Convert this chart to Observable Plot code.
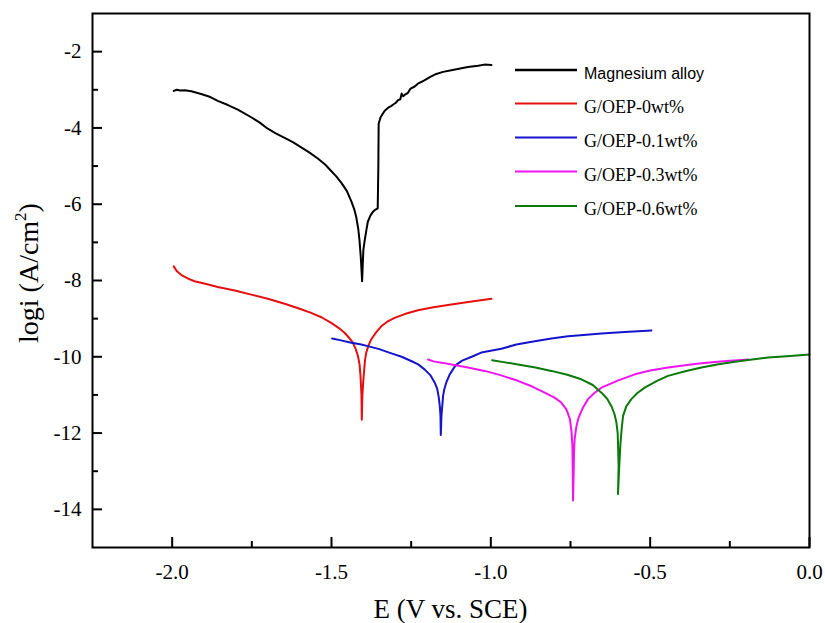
<!DOCTYPE html>
<html><head><meta charset="utf-8">
<script src="https://cdn.jsdelivr.net/npm/d3@7"></script>
<script src="https://cdn.jsdelivr.net/npm/@observablehq/plot@0.6"></script>
<style>body{margin:0;background:#fff}#chart{position:relative;width:825px;height:623px}
#chart svg text{font-family:"Liberation Serif","Times New Roman",serif}
#chart svg text.sans{font-family:"Liberation Sans",Arial,sans-serif}</style>
</head><body><div id="chart"></div>
<script>
const seriesNames = ["Magnesium alloy", "G/OEP-0wt%", "G/OEP-0.1wt%", "G/OEP-0.3wt%", "G/OEP-0.6wt%"];
const seriesColors = ["#000000", "#e41010", "#1414cc", "#f014f0", "#0a7a0a"];

const mgE = [-1.995,-1.985,-1.975,-1.961,-1.940,-1.909,-1.880,-1.857,-1.825,-1.794,-1.752,-1.725,-1.700,-1.675,-1.647,-1.620,-1.595,-1.570,-1.543,-1.520,-1.501,-1.485,-1.469,-1.452,-1.438,-1.428,-1.422,-1.416,-1.412,-1.408,-1.405,-1.404,-1.402,-1.400,-1.396,-1.391,-1.386,-1.378,-1.370,-1.362,-1.355,-1.353,-1.352,-1.346,-1.340,-1.333,-1.322,-1.312,-1.305,-1.298,-1.291,-1.284,-1.280,-1.275,-1.268,-1.260,-1.252,-1.240,-1.229,-1.210,-1.190,-1.176,-1.150,-1.124,-1.100,-1.072,-1.040,-1.020,-0.998];
const mgLogI = [-3.03,-3.00,-3.02,-3.01,-3.04,-3.11,-3.19,-3.29,-3.40,-3.52,-3.72,-3.86,-4.02,-4.14,-4.26,-4.38,-4.51,-4.64,-4.80,-4.96,-5.13,-5.27,-5.44,-5.65,-5.92,-6.15,-6.35,-6.65,-6.96,-7.40,-7.85,-8.02,-7.60,-7.20,-6.96,-6.70,-6.46,-6.30,-6.20,-6.14,-6.11,-5.00,-3.89,-3.72,-3.64,-3.55,-3.47,-3.42,-3.38,-3.34,-3.27,-3.25,-3.10,-3.17,-3.12,-3.08,-2.97,-2.92,-2.84,-2.76,-2.66,-2.60,-2.53,-2.49,-2.45,-2.40,-2.37,-2.34,-2.35];

const g0E = [-1.995,-1.985,-1.972,-1.950,-1.930,-1.890,-1.857,-1.800,-1.752,-1.700,-1.647,-1.600,-1.564,-1.530,-1.501,-1.478,-1.459,-1.445,-1.433,-1.424,-1.417,-1.412,-1.409,-1.406,-1.405,-1.403,-1.400,-1.398,-1.395,-1.391,-1.384,-1.375,-1.360,-1.344,-1.325,-1.302,-1.270,-1.229,-1.180,-1.124,-1.060,-0.998];
const g0LogI = [-7.63,-7.76,-7.85,-7.95,-8.02,-8.10,-8.17,-8.27,-8.37,-8.48,-8.61,-8.74,-8.85,-8.97,-9.11,-9.24,-9.37,-9.50,-9.63,-9.80,-9.98,-10.20,-10.50,-11.00,-11.65,-11.00,-10.60,-10.40,-10.10,-9.89,-9.70,-9.54,-9.36,-9.20,-9.08,-8.98,-8.88,-8.78,-8.70,-8.63,-8.55,-8.48];

const g01E = [-1.498,-1.470,-1.438,-1.410,-1.386,-1.350,-1.312,-1.280,-1.250,-1.228,-1.208,-1.190,-1.176,-1.168,-1.164,-1.160,-1.158,-1.157,-1.155,-1.152,-1.150,-1.146,-1.140,-1.130,-1.119,-1.110,-1.090,-1.060,-1.030,-0.967,-0.920,-0.862,-0.810,-0.758,-0.700,-0.653,-0.580,-0.496];
const g01LogI = [-9.52,-9.57,-9.63,-9.67,-9.72,-9.80,-9.91,-10.00,-10.11,-10.20,-10.33,-10.48,-10.68,-10.85,-11.03,-11.30,-11.55,-12.05,-11.55,-11.25,-11.03,-10.85,-10.68,-10.48,-10.33,-10.22,-10.10,-10.00,-9.89,-9.79,-9.68,-9.59,-9.52,-9.46,-9.42,-9.39,-9.35,-9.31];

const g03E = [-1.197,-1.180,-1.150,-1.124,-1.080,-1.019,-0.970,-0.915,-0.870,-0.831,-0.800,-0.779,-0.763,-0.752,-0.747,-0.744,-0.743,-0.742,-0.740,-0.739,-0.737,-0.732,-0.726,-0.712,-0.695,-0.675,-0.653,-0.600,-0.548,-0.500,-0.444,-0.390,-0.339,-0.270,-0.192];
const g03LogI = [-10.07,-10.12,-10.16,-10.20,-10.27,-10.37,-10.48,-10.63,-10.78,-10.94,-11.07,-11.20,-11.38,-11.63,-11.95,-12.33,-13.00,-13.77,-13.00,-12.50,-12.16,-11.85,-11.63,-11.35,-11.11,-10.95,-10.81,-10.62,-10.46,-10.36,-10.28,-10.22,-10.17,-10.12,-10.07];

const g06E = [-0.996,-0.960,-0.915,-0.860,-0.810,-0.760,-0.716,-0.680,-0.653,-0.635,-0.622,-0.612,-0.606,-0.602,-0.601,-0.599,-0.601,-0.597,-0.593,-0.589,-0.585,-0.575,-0.559,-0.540,-0.517,-0.480,-0.444,-0.390,-0.339,-0.290,-0.234,-0.180,-0.130,-0.060,0.0];
const g06LogI = [-10.09,-10.14,-10.20,-10.28,-10.37,-10.47,-10.59,-10.74,-10.94,-11.10,-11.29,-11.50,-11.72,-12.00,-12.25,-12.86,-13.60,-12.86,-12.25,-11.85,-11.55,-11.30,-11.11,-10.95,-10.81,-10.64,-10.50,-10.38,-10.28,-10.20,-10.13,-10.07,-10.02,-9.98,-9.94];

const xMajor = [-2, -1.5, -1, -0.5, 0];
const xMinor = [-1.75, -1.25, -0.75, -0.25];
const yMajor = [-14, -12, -10, -8, -6, -4, -2];
const yMinor = [-13, -11, -9, -7, -5, -3];
const xTitle = "E (V vs. SCE)";
const yTitle = "logi (A/cm";

const seriesE = [mgE, g0E, g01E, g03E, g06E];
const seriesLogI = [mgLogI, g0LogI, g01LogI, g03LogI, g06LogI];
const rows = [];
seriesNames.forEach((name, k) => {
  seriesE[k].forEach((e, i) => rows.push({series: name, E: e, logI: seriesLogI[k][i]}));
});

const W = 825, H = 623, mL = 92, mR = 16, mT = 13, mB = 76;
const serif = "Liberation Serif";

const svg = Plot.plot({
  width: W, height: H, marginLeft: mL, marginRight: mR, marginTop: mT, marginBottom: mB,
  style: {background: "#fff", color: "#000"},
  x: {domain: [-2.25, 0]},
  y: {domain: [-15, -1]},
  color: {domain: seriesNames, range: seriesColors},
  marks: [
    Plot.line(rows, {x: "E", y: "logI", z: "series", stroke: "series", strokeWidth: 2, curve: "linear"}),
    Plot.frame({stroke: "#000", strokeWidth: 2}),
    Plot.axisX(xMajor, {tickSize: -10, fill: "none", strokeWidth: 2, label: null}),
    Plot.axisX(xMinor, {tickSize: -6, fill: "none", strokeWidth: 2, label: null}),
    Plot.axisY(yMajor, {tickSize: -10, fill: "none", strokeWidth: 2, label: null}),
    Plot.axisY(yMinor, {tickSize: -6, fill: "none", strokeWidth: 2, label: null}),
    Plot.text(xMajor, {x: d => d, frameAnchor: "bottom", lineAnchor: "top", dy: 17, text: d => d.toFixed(1), fontSize: 21, fontFamily: serif}),
    Plot.text(yMajor, {y: d => d, frameAnchor: "left", textAnchor: "end", dx: -11, text: d => String(d), fontSize: 21, fontFamily: serif})
  ]
});
document.getElementById("chart").appendChild(svg);

const s = d3.select(svg);

s.append("text").attr("x", (mL + W - mR) / 2).attr("y", 618)
  .attr("text-anchor", "middle").attr("font-size", 27).attr("fill", "#000")
  .text(xTitle);
const yt = s.append("text").attr("transform", "translate(38,273) rotate(-90)")
  .attr("text-anchor", "middle").attr("font-size", 28).attr("fill", "#000");
yt.append("tspan").text(yTitle);
yt.append("tspan").attr("font-size", 17).attr("dy", -12).text("2");
yt.append("tspan").attr("dy", 12).text(")");

const legY = [70, 103.5, 137.5, 171.5, 206];
const lg = s.append("g").attr("text-anchor", "start");
seriesNames.forEach((name, k) => {
  lg.append("line").attr("x1", 515).attr("x2", 577).attr("y1", legY[k]).attr("y2", legY[k])
    .attr("stroke", seriesColors[k]).attr("stroke-width", k === 0 ? 2.5 : 2);
  lg.append("text").attr("x", 584).attr("y", legY[k] + 9).attr("text-anchor", "start")
    .attr("class", k === 0 ? "sans" : null)
    .attr("font-size", k === 0 ? 16 : 18).attr("fill", "#000").text(name);
});
</script></body></html>
